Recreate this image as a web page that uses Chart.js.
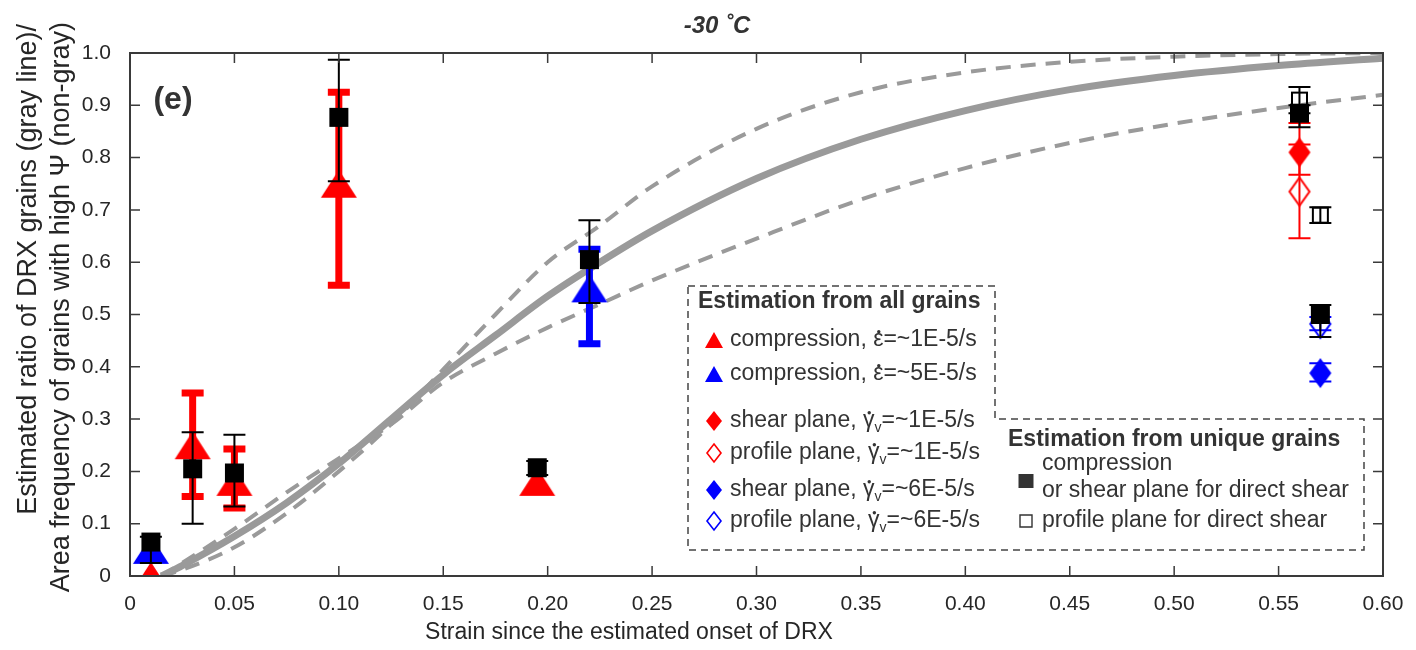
<!DOCTYPE html>
<html>
<head>
<meta charset="utf-8">
<script src="https://cdn.jsdelivr.net/npm/chart.js@4.4.1/dist/chart.umd.min.js"></script>
<style>
  html, body { margin: 0; padding: 0; background: #fff; }
  canvas { display: block; }
</style>
</head>
<body>
<canvas id="c" width="1416" height="650"></canvas>
<script>
// axis ticks
const xTicks = [0, 0.05, 0.10, 0.15, 0.20, 0.25, 0.30, 0.35, 0.40, 0.45, 0.50, 0.55, 0.60];
const xTickLabels = ['0', '0.05', '0.10', '0.15', '0.20', '0.25', '0.30', '0.35', '0.40', '0.45', '0.50', '0.55', '0.60'];
const yTicks = [0, 0.1, 0.2, 0.3, 0.4, 0.5, 0.6, 0.7, 0.8, 0.9, 1.0];
const yTickLabels = ['0', '0.1', '0.2', '0.3', '0.4', '0.5', '0.6', '0.7', '0.8', '0.9', '1.0'];

// gray DRX ratio curves
const curveStrain = [0.015, 0.025, 0.05, 0.075, 0.10, 0.125, 0.15, 0.175, 0.20, 0.225, 0.25, 0.30, 0.35, 0.40, 0.45, 0.50, 0.55, 0.60];
const drxMid   = [0, 0.02, 0.076, 0.14, 0.215, 0.30, 0.385, 0.46, 0.535, 0.60, 0.66, 0.76, 0.835, 0.89, 0.93, 0.957, 0.976, 0.99];
const drxSteep = [0, 0.012, 0.055, 0.12, 0.20, 0.29, 0.395, 0.50, 0.60, 0.67, 0.745, 0.855, 0.925, 0.963, 0.983, 0.993, 0.998, 1.0];
const drxFlat  = [0, 0.025, 0.09, 0.16, 0.225, 0.29, 0.37, 0.425, 0.475, 0.52, 0.565, 0.645, 0.72, 0.78, 0.828, 0.865, 0.895, 0.92];

// [strain, value, error low, error high]
const compSlow    = [[0.01, 0.0, null, null], [0.03, 0.25, 0.152, 0.35], [0.05, 0.18, 0.13, 0.243], [0.10, 0.75, 0.556, 0.925], [0.195, 0.18, null, null]];
const compFast    = [[0.01, 0.05, null, null], [0.22, 0.55, 0.444, 0.625]];
const shearSlow   = [[0.56, 0.81, 0.767, 0.866]];
const profileSlow = [[0.56, 0.735, 0.646, 0.825]];
const shearFast   = [[0.57, 0.388, 0.372, 0.407]];
const profileFast = [[0.57, 0.482, 0.47, 0.495]];
const uniqueMain  = [[0.01, 0.065, 0.025, 0.075], [0.03, 0.205, 0.10, 0.275], [0.05, 0.197, 0.133, 0.27], [0.10, 0.877, 0.755, 0.987],
                     [0.195, 0.207, 0.193, 0.22], [0.22, 0.605, 0.522, 0.68], [0.56, 0.885, 0.858, 0.90], [0.57, 0.50, 0.457, 0.518]];
const uniqueProf  = [[0.56, 0.91, 0.885, 0.935], [0.57, 0.69, 0.675, 0.705]];

const FONT = '"Liberation Sans", Arial, sans-serif';
const RED = '#ff0000', BLUE = '#0000ff', GRAY = '#9a9a9a', INK = '#333333';

function marker(shape, w, h, fill, stroke, lw) {
  const pad = Math.ceil(lw || 0) + 1;
  const c = document.createElement('canvas');
  c.width = w + 2 * pad; c.height = h + 2 * pad;
  const g = c.getContext('2d');
  g.translate(pad, pad);
  g.beginPath();
  if (shape === 'tri') { g.moveTo(w / 2, 0); g.lineTo(w, h); g.lineTo(0, h); }
  else if (shape === 'dia') { g.moveTo(w / 2, 0); g.lineTo(w, h / 2); g.lineTo(w / 2, h); g.lineTo(0, h / 2); }
  else g.rect(0, 0, w, h);
  g.closePath();
  if (fill) { g.fillStyle = fill; g.fill(); }
  if (stroke) { g.strokeStyle = stroke; g.lineWidth = lw; g.stroke(); }
  return c;
}

const mk = {
  redTri: marker('tri', 36, 28, RED), blueTri: marker('tri', 36, 28, BLUE),
  redDia: marker('dia', 22, 30, RED), redDiaO: marker('dia', 20, 28, null, RED, 2),
  blueDia: marker('dia', 22, 30, BLUE), blueDiaO: marker('dia', 20, 28, null, BLUE, 2),
  sq: marker('sq', 19, 19, '#000'), sqO: marker('sq', 15, 15, null, '#000', 2),
};
const lg = {
  redTri: marker('tri', 18, 16, RED), blueTri: marker('tri', 18, 16, BLUE),
  redDia: marker('dia', 16, 20, RED), redDiaO: marker('dia', 14, 18, null, RED, 1.6),
  blueDia: marker('dia', 16, 20, BLUE), blueDiaO: marker('dia', 14, 18, null, BLUE, 1.6),
  sq: marker('sq', 15, 14, INK), sqO: marker('sq', 12, 12, null, INK, 1.4),
};

function pts(rows) { return rows.map(r => ({ x: r[0], y: r[1] })); }
function errs(rows) { return rows.map(r => [r[2], r[3]]); }
function curve(vals) { return curveStrain.map((s, i) => ({ x: s, y: vals[i] })); }

function points(rows, style, order, errColor, errWidth) {
  return { data: pts(rows), errBars: errs(rows), errColor, errWidth, pointStyle: style, pointRadius: 10,
           showLine: false, order, clip: 0 };
}
function line(vals, width, dash, order) {
  return { data: curve(vals), showLine: true, pointRadius: 0, borderColor: GRAY, borderWidth: width,
           borderDash: dash, borderCapStyle: 'butt', cubicInterpolationMode: 'monotone', order, clip: 0 };
}

const datasets = [
  line(drxFlat, 4, [15, 10], 20),
  line(drxSteep, 4, [15, 10], 19),
  line(drxMid, 7, [], 18),
  points(compSlow, mk.redTri, 9, RED, 7),
  points(compFast, mk.blueTri, 8, BLUE, 7),
  points(shearSlow, mk.redDia, 7, RED, 2),
  points(profileSlow, mk.redDiaO, 6, RED, 2),
  points(shearFast, mk.blueDia, 5, BLUE, 2),
  points(profileFast, mk.blueDiaO, 4, BLUE, 2),
  points(uniqueProf, mk.sqO, 2, '#000', 2),
  points(uniqueMain, mk.sq, 1, '#000', 2),
];

// text runs: plain, dotted (rate symbol) or subscript
function rich(ctx, x, y, parts, size) {
  let cx = x;
  parts.forEach(p => {
    const s = p.sub ? Math.round(size * 0.62) : size;
    ctx.font = s + 'px ' + FONT;
    ctx.fillText(p.t, cx, y + (p.sub ? size * 0.3 : 0));
    const w = ctx.measureText(p.t).width;
    if (p.dot) {
      ctx.beginPath();
      ctx.arc(cx + w / 2 + 0.5, y - size * 0.36, 1.7, 0, Math.PI * 2);
      ctx.fill();
    }
    cx += w;
  });
}

const legendAll = [
  { m: 'redTri', y: 340, parts: [{ t: 'compression, ' }, { t: '\u03B5', dot: true }, { t: '=~1E-5/s' }] },
  { m: 'blueTri', y: 374, parts: [{ t: 'compression, ' }, { t: '\u03B5', dot: true }, { t: '=~5E-5/s' }] },
  { m: 'redDia', y: 421, parts: [{ t: 'shear plane, ' }, { t: '\u03B3', dot: true }, { t: 'v', sub: true }, { t: '=~1E-5/s' }] },
  { m: 'redDiaO', y: 453, parts: [{ t: 'profile plane, ' }, { t: '\u03B3', dot: true }, { t: 'v', sub: true }, { t: '=~1E-5/s' }] },
  { m: 'blueDia', y: 490, parts: [{ t: 'shear plane, ' }, { t: '\u03B3', dot: true }, { t: 'v', sub: true }, { t: '=~6E-5/s' }] },
  { m: 'blueDiaO', y: 521, parts: [{ t: 'profile plane, ' }, { t: '\u03B3', dot: true }, { t: 'v', sub: true }, { t: '=~6E-5/s' }] },
];

const decor = {
  id: 'decor',
  afterDatasetDraw(chart, args) {
    const ds = chart.data.datasets[args.index];
    if (!ds.errBars) return;
    const { x, y } = chart.scales, ctx = chart.ctx, a = chart.chartArea;
    ctx.save();
    ctx.beginPath(); ctx.rect(a.left, a.top, a.right - a.left, a.bottom - a.top); ctx.clip();
    ctx.strokeStyle = ds.errColor; ctx.lineWidth = ds.errWidth;
    ds.errBars.forEach((e, i) => {
      if (e[0] == null) return;
      const px = x.getPixelForValue(ds.data[i].x);
      const lo = y.getPixelForValue(e[0]), hi = y.getPixelForValue(e[1]);
      ctx.beginPath();
      ctx.moveTo(px, lo); ctx.lineTo(px, hi);
      ctx.moveTo(px - 11, lo); ctx.lineTo(px + 11, lo);
      ctx.moveTo(px - 11, hi); ctx.lineTo(px + 11, hi);
      ctx.stroke();
    });
    ctx.restore();
  },
  afterDraw(chart) {
    const { x, y } = chart.scales, ctx = chart.ctx, a = chart.chartArea;
    ctx.save();
    // box with inward ticks
    ctx.strokeStyle = '#3a3a3a'; ctx.lineWidth = 2;
    ctx.strokeRect(a.left, a.top, a.right - a.left, a.bottom - a.top);
    ctx.lineWidth = 1.5;
    ctx.beginPath();
    xTicks.forEach(v => {
      const px = x.getPixelForValue(v);
      ctx.moveTo(px, a.bottom); ctx.lineTo(px, a.bottom - 10);
      ctx.moveTo(px, a.top); ctx.lineTo(px, a.top + 10);
    });
    yTicks.forEach(v => {
      const py = y.getPixelForValue(v);
      ctx.moveTo(a.left, py); ctx.lineTo(a.left + 10, py);
      ctx.moveTo(a.right, py); ctx.lineTo(a.right - 10, py);
    });
    ctx.stroke();

    // title, panel letter, axis titles
    ctx.fillStyle = INK; ctx.textAlign = 'center'; ctx.textBaseline = 'middle';
    ctx.font = 'italic bold 24px ' + FONT;
    ctx.fillText('-30 \u02DAC', 717, 26);
    ctx.font = 'bold 32px ' + FONT;
    ctx.fillText('(e)', 173, 100);
    ctx.fillStyle = '#262626';
    ctx.font = '23px ' + FONT;
    ctx.fillText('Strain since the estimated onset of DRX', 629, 633);
    ctx.save();
    ctx.rotate(-Math.PI / 2);
    ctx.textAlign = 'right'; ctx.font = '27px ' + FONT;
    ctx.fillText('Estimated ratio of DRX grains (gray line)/', -24, 29);
    ctx.fillText('Area frequency of grains with high \u03A8 (non-gray)', -22, 62);
    ctx.restore();

    // legend outline
    ctx.strokeStyle = '#444'; ctx.lineWidth = 1.5; ctx.setLineDash([7, 5]);
    ctx.beginPath();
    ctx.moveTo(688, 286); ctx.lineTo(995, 286); ctx.lineTo(995, 419); ctx.lineTo(1364, 419);
    ctx.lineTo(1364, 550); ctx.lineTo(688, 550); ctx.closePath();
    ctx.stroke(); ctx.setLineDash([]);

    ctx.fillStyle = INK; ctx.textAlign = 'left'; ctx.textBaseline = 'middle';
    ctx.font = 'bold 23px ' + FONT;
    ctx.fillText('Estimation from all grains', 698, 302);
    ctx.fillText('Estimation from unique grains', 1008, 440);
    legendAll.forEach(it => {
      const im = lg[it.m];
      ctx.drawImage(im, 714 - im.width / 2, it.y - im.height / 2);
      rich(ctx, 730, it.y, it.parts, 23);
    });
    ctx.drawImage(lg.sq, 1026 - lg.sq.width / 2, 481 - lg.sq.height / 2);
    ctx.drawImage(lg.sqO, 1026 - lg.sqO.width / 2, 521 - lg.sqO.height / 2);
    ctx.font = '23px ' + FONT;
    ctx.fillText('compression', 1042, 464);
    ctx.fillText('or shear plane for direct shear', 1042, 491);
    ctx.fillText('profile plane for direct shear', 1042, 521);
    ctx.restore();
  }
};

new Chart(document.getElementById('c'), {
  type: 'scatter',
  data: { datasets },
  options: {
    responsive: false, animation: false,
    layout: { padding: { left: 0, right: 33, top: 53, bottom: 0 } },
    plugins: { legend: { display: false }, tooltip: { enabled: false } },
    scales: {
      x: {
        type: 'linear', min: 0, max: 0.6,
        grid: { display: false }, border: { display: false },
        afterBuildTicks: s => { s.ticks = xTicks.map(v => ({ value: v })); },
        afterFit: s => { s.height = 74; },
        ticks: { padding: 8, color: '#262626', font: { family: FONT, size: 21 }, maxRotation: 0,
                 callback: v => xTickLabels[xTicks.indexOf(v)] }
      },
      y: {
        type: 'linear', min: 0, max: 1,
        grid: { display: false }, border: { display: false },
        afterBuildTicks: s => { s.ticks = yTicks.map(v => ({ value: v })); },
        afterFit: s => { s.width = 130; },
        ticks: { padding: 11, color: '#262626', font: { family: FONT, size: 21 },
                 callback: v => yTickLabels[yTicks.indexOf(v)] }
      }
    }
  },
  plugins: [decor]
});
</script>
</body>
</html>
